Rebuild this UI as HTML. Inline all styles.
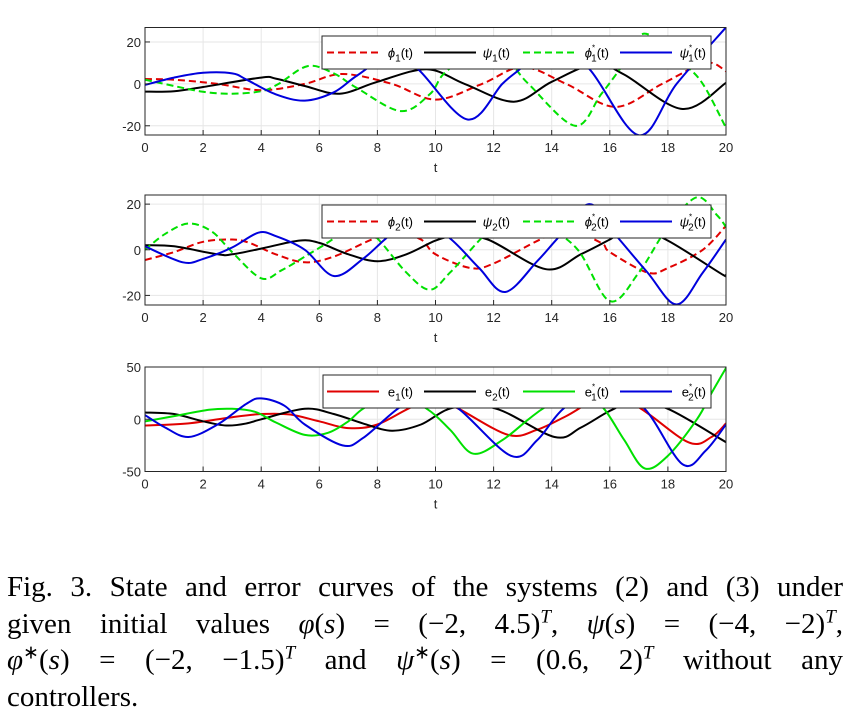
<!DOCTYPE html>
<html><head><meta charset="utf-8"><style>
html,body{margin:0;padding:0;background:#fff;}
svg{display:block;}
.tick{font-family:"Liberation Sans",sans-serif;font-size:13px;fill:#262626;}
.leg{font-family:"Liberation Sans",sans-serif;font-size:13px;fill:#000;}
#caption{position:absolute;left:7px;top:569px;width:836px;font-family:"Liberation Serif",serif;font-size:29px;color:#000;}
#caption div{height:36.7px;line-height:36.7px;text-align:justify;text-align-last:justify;white-space:nowrap;}
#caption div.last{text-align-last:left;}
#caption i{font-style:italic;}
#caption sup{font-size:19px;line-height:0;}
</style></head><body>
<svg id="chart" width="851" height="726" viewBox="0 0 851 726" xmlns="http://www.w3.org/2000/svg"></svg>
<div id="caption">
<div style="white-space:normal">Fig. 3. State and error curves of the systems (2) and (3) under</div>
<div style="white-space:normal">given initial values <i>φ</i>(<i>s</i>) = (−2, 4.5)<sup><i>T</i></sup>, <i>ψ</i>(<i>s</i>) = (−4, −2)<sup><i>T</i></sup>,</div>
<div style="white-space:normal"><i>φ</i><sup>∗</sup>(<i>s</i>) = (−2, −1.5)<sup><i>T</i></sup> and <i>ψ</i><sup>∗</sup>(<i>s</i>) = (0.6, 2)<sup><i>T</i></sup> without any</div>
<div class="last">controllers.</div>
</div>
<script>
// ---- data ----
const xTicks=[0,2,4,6,8,10,12,14,16,18,20];
const p1Ticks=[-20,0,20], p2Ticks=[-20,0,20], p3Ticks=[-50,0,50];
const phi1=[[0,2.3],[1,2],[2.5,0],[4,-3],[5.5,0],[6.8,4.7],[8.5,0],[10,-7.5],[11.6,0],[13,8],[14.5,0],[16.2,-11],[17.8,0],[19.3,10],[20,6]];
const psi1=[[0,-3.7],[1,-3.5],[2,-1.5],[4,3],[4.5,2.5],[5.5,-1],[6.7,-4.7],[8,1],[9.7,7],[11,0],[12.7,-8.5],[14,1],[15.5,9.5],[16.5,4.4],[18.5,-12],[20,0.5]];
const phiS1=[[0,2],[1,-1],[2,-3.8],[3,-4.7],[4,-3.5],[4.6,0],[5.6,8.5],[6.5,5],[7.3,-2],[8.8,-13],[9.8,-5],[10.3,5],[11.3,14],[12.5,10],[13.2,0],[14.8,-20],[15.7,-5],[16.5,10],[17.2,24],[18.5,10],[19.2,0],[20,-21]];
const psiS1=[[0,-0.5],[1,3],[2,5.3],[3,5],[3.5,2],[4.5,-5],[5.5,-8],[6.5,-4],[7.3,4],[8.5,14],[9.4,7],[11.1,-17],[12.3,0],[12.9,7],[14,20],[15.3,7],[17,-24.5],[18.3,0],[20,27]];
const phi2=[[0,-4.5],[1,-1],[2,3.5],[3,4.5],[3.6,3],[4.5,-2],[5.5,-5.5],[6.5,-3],[7.8,4.5],[8.6,8],[9.5,4.5],[10,-2],[11.2,-8],[12,-6],[13.6,4.5],[14.5,9],[15.7,3],[16,-1],[17.3,-10],[18,-8],[19.2,0],[20,10.5]];
const psi2=[[0,2],[1,1.5],[2.5,-2],[3,-2],[4,0.5],[5.3,4],[6,3],[7,-2],[8,-5],[9,-2],[10,4],[10.7,6],[11.8,4.5],[13.8,-8.5],[15,-2],[16,4.5],[16.8,10],[18,4],[19.9,-11],[20,-11]];
const phiS2=[[0,0],[0.7,7],[1.5,11.5],[2.3,8],[3,-1],[4,-12.5],[4.7,-9],[5.5,-3],[6.5,5],[7.2,13],[8,5],[9,-10],[9.8,-17.5],[10.5,-10],[11.5,4],[12.5,17],[13.8,10],[14.9,0],[16,-22.5],[17,-10],[18,10],[19,23],[19.7,15],[20,10]];
const psiS2=[[0,1.5],[1.3,-5.5],[2,-4],[3,1],[3.9,7.5],[4.5,6],[5.5,0],[6.5,-11.5],[7.5,-4],[8.3,5],[9.3,15],[10.5,5],[11.5,-8],[12.4,-18.5],[13.5,-5],[14.2,5],[15.3,20],[16.3,5],[17.3,-10],[18.3,-24],[19.2,-10],[20,4.5]];
const e1=[[0,-6],[1.5,-4],[3,2],[4,5],[5,4.5],[6,-2],[7,-8.5],[8,-5],[9.3,13],[10.2,16],[10.8,10],[12.5,-15],[13.5,-10],[14.5,3],[15.7,20],[16.9,13],[18.7,-22],[19.5,-17],[20,-4]];
const e2=[[0,6.5],[1,5],[2,-2],[2.8,-6],[3.5,-4],[4,0],[5.5,10],[6.5,5],[7.5,-4],[8.5,-11],[9.5,-5],[10.6,11],[12.1,10],[14.1,-17],[15,-8],[16,8],[16.8,16],[18,10],[20,-22]];
const eS1=[[0,-2],[1,3],[2.2,9],[3,10],[3.8,7],[4.5,-3],[5.5,-15],[6.3,-13],[7,-2],[7.5,10],[8.5,25],[9.7,10],[10.5,-10],[11.3,-33],[12.3,-20],[13.2,0],[13.8,12],[15,30],[15.8,10],[16.5,-20],[17.2,-47],[18,-35],[19,0],[19.5,25],[20,49]];
const eS2=[[0,4],[0.7,-8],[1.5,-17],[2.5,-5],[3.5,15],[4,20],[4.8,13],[5.5,-5],[6.8,-25],[7.5,-18],[8.7,10],[9.7,25],[10.8,10],[12.6,-35],[13.5,-20],[14.4,10],[15.8,35],[17.2,10],[18.5,-43],[19.3,-30],[20,-5]];

const NS="http://www.w3.org/2000/svg";
const svg=document.getElementById('chart');
function mk(tag,attrs,parent){const e=document.createElementNS(NS,tag);for(const k in attrs)e.setAttribute(k,attrs[k]);(parent||svg).appendChild(e);return e;}
function smooth(pts){let d='M'+pts[0][0]+','+pts[0][1];for(let i=0;i<pts.length-1;i++){const p0=pts[Math.max(0,i-1)],p1=pts[i],p2=pts[i+1],p3=pts[Math.min(pts.length-1,i+2)];const c1x=p1[0]+(p2[0]-p0[0])/6,c1y=p1[1]+(p2[1]-p0[1])/6,c2x=p2[0]-(p3[0]-p1[0])/6,c2y=p2[1]-(p3[1]-p1[1])/6;d+=' C'+c1x.toFixed(1)+','+c1y.toFixed(1)+' '+c2x.toFixed(1)+','+c2y.toFixed(1)+' '+p2[0].toFixed(1)+','+p2[1].toFixed(1);}return d;}

function panel(cfg){
  const x0=145,x1=726;
  const sx=t=>x0+(t/20)*(x1-x0);
  const sy=v=>cfg.top+(cfg.ymax-v)/(cfg.ymax-cfg.ymin)*(cfg.bot-cfg.top);
  const g=mk('g',{});
  
  
  const clipId='clip'+cfg.name;
  const cp=mk('clipPath',{id:clipId},g);mk('rect',{x:x0,y:cfg.top,width:x1-x0,height:cfg.bot-cfg.top},cp);
  xTicks.forEach(t=>{const l=mk('line',{x1:sx(t),x2:sx(t),y1:cfg.top,y2:cfg.bot,stroke:'#e6e6e6','stroke-width':1},g);});
  cfg.yTicks.forEach(v=>{const l=mk('line',{x1:x0,x2:x1,y1:sy(v),y2:sy(v),stroke:'#e6e6e6','stroke-width':1},g);});
  const lg=mk('g',{'clip-path':'url(#'+clipId+')'},g);
  cfg.series.forEach(s=>{const p=mk('path',{d:smooth(s.data.map(d=>[sx(d[0]),sy(d[1])])),fill:'none',stroke:s.color,'stroke-width':2,'stroke-dasharray':s.dash?'7,4':'none'},lg);});
  const fr=mk('rect',{x:x0,y:cfg.top,width:x1-x0,height:cfg.bot-cfg.top,fill:'none',stroke:'#262626','stroke-width':1},g);
  
  xTicks.forEach(t=>{mk('line',{x1:sx(t),x2:sx(t),y1:cfg.bot,y2:cfg.bot-5,stroke:'#262626'},g);const tx=mk('text',{x:sx(t),y:cfg.bot+17,'text-anchor':'middle',class:'tick'},g);tx.textContent=t;});
  cfg.yTicks.forEach(v=>{mk('line',{x1:x0,x2:x0+5,y1:sy(v),y2:sy(v),stroke:'#262626'},g);const tx=mk('text',{x:x0-4,y:sy(v)+5,'text-anchor':'end',class:'tick'},g);tx.textContent=v;});
  const xt=mk('text',{x:(x0+x1)/2,y:cfg.bot+37,'text-anchor':'middle',class:'tick','font-size':'14px'},g);xt.textContent='t';
  
  const L=mk('g',{},g);
  mk('rect',{x:cfg.lx,y:cfg.ly,width:711-cfg.lx,height:cfg.lh,fill:'#fff',stroke:'#262626','stroke-width':1},L);
  const cy=cfg.ly+cfg.lh/2;
  const starts=[327,424,523,620];
  cfg.series.forEach((s,i)=>{const e=mk('g',{},L);
    mk('line',{x1:starts[i],x2:starts[i]+52,y1:cy,y2:cy,stroke:s.color,'stroke-width':2,'stroke-dasharray':s.dash?'7,4':'none'},e);
    const tx=mk('text',{x:starts[i]+86,y:cy+5,'text-anchor':'end',class:'leg'},e);
    tx.innerHTML=s.label;});
}
function lab(sym,sub,star){return '<tspan font-style="'+(sym==='e'?'normal':'italic')+'">'+sym+'</tspan>'+(star?'<tspan dy="-7" font-size="8">*</tspan><tspan dy="11" dx="-4" font-size="10">'+sub+'</tspan>':'<tspan dy="4" font-size="10">'+sub+'</tspan>')+'<tspan dy="-4">(t)</tspan>';}
panel({name:'panel-1',top:27.5,bot:135,ymin:-24.4,ymax:26.9,yTicks:p1Ticks,lx:322,ly:36,lh:33,series:[
 {id:'phi1',data:phi1,color:'#e00000',dash:true,label:lab('ϕ','1',false)},
 {id:'psi1',data:psi1,color:'#000',dash:false,label:lab('ψ','1',false)},
 {id:'phi1-star',data:phiS1,color:'#00e000',dash:true,label:lab('ϕ','1',true)},
 {id:'psi1-star',data:psiS1,color:'#0000dd',dash:false,label:lab('ψ','1',true)}]});
panel({name:'panel-2',top:195,bot:305,ymin:-24.2,ymax:24,yTicks:p2Ticks,lx:322,ly:205,lh:33,series:[
 {id:'phi2',data:phi2,color:'#e00000',dash:true,label:lab('ϕ','2',false)},
 {id:'psi2',data:psi2,color:'#000',dash:false,label:lab('ψ','2',false)},
 {id:'phi2-star',data:phiS2,color:'#00e000',dash:true,label:lab('ϕ','2',true)},
 {id:'psi2-star',data:psiS2,color:'#0000dd',dash:false,label:lab('ψ','2',true)}]});
panel({name:'panel-3',top:367,bot:471.5,ymin:-50,ymax:50,yTicks:p3Ticks,lx:323,ly:375,lh:33,series:[
 {id:'e1',data:e1,color:'#e00000',dash:false,label:lab('e','1',false)},
 {id:'e2',data:e2,color:'#000',dash:false,label:lab('e','2',false)},
 {id:'e1-star',data:eS1,color:'#00e000',dash:false,label:lab('e','1',true)},
 {id:'e2-star',data:eS2,color:'#0000dd',dash:false,label:lab('e','2',true)}]});
</script>
</body></html>
